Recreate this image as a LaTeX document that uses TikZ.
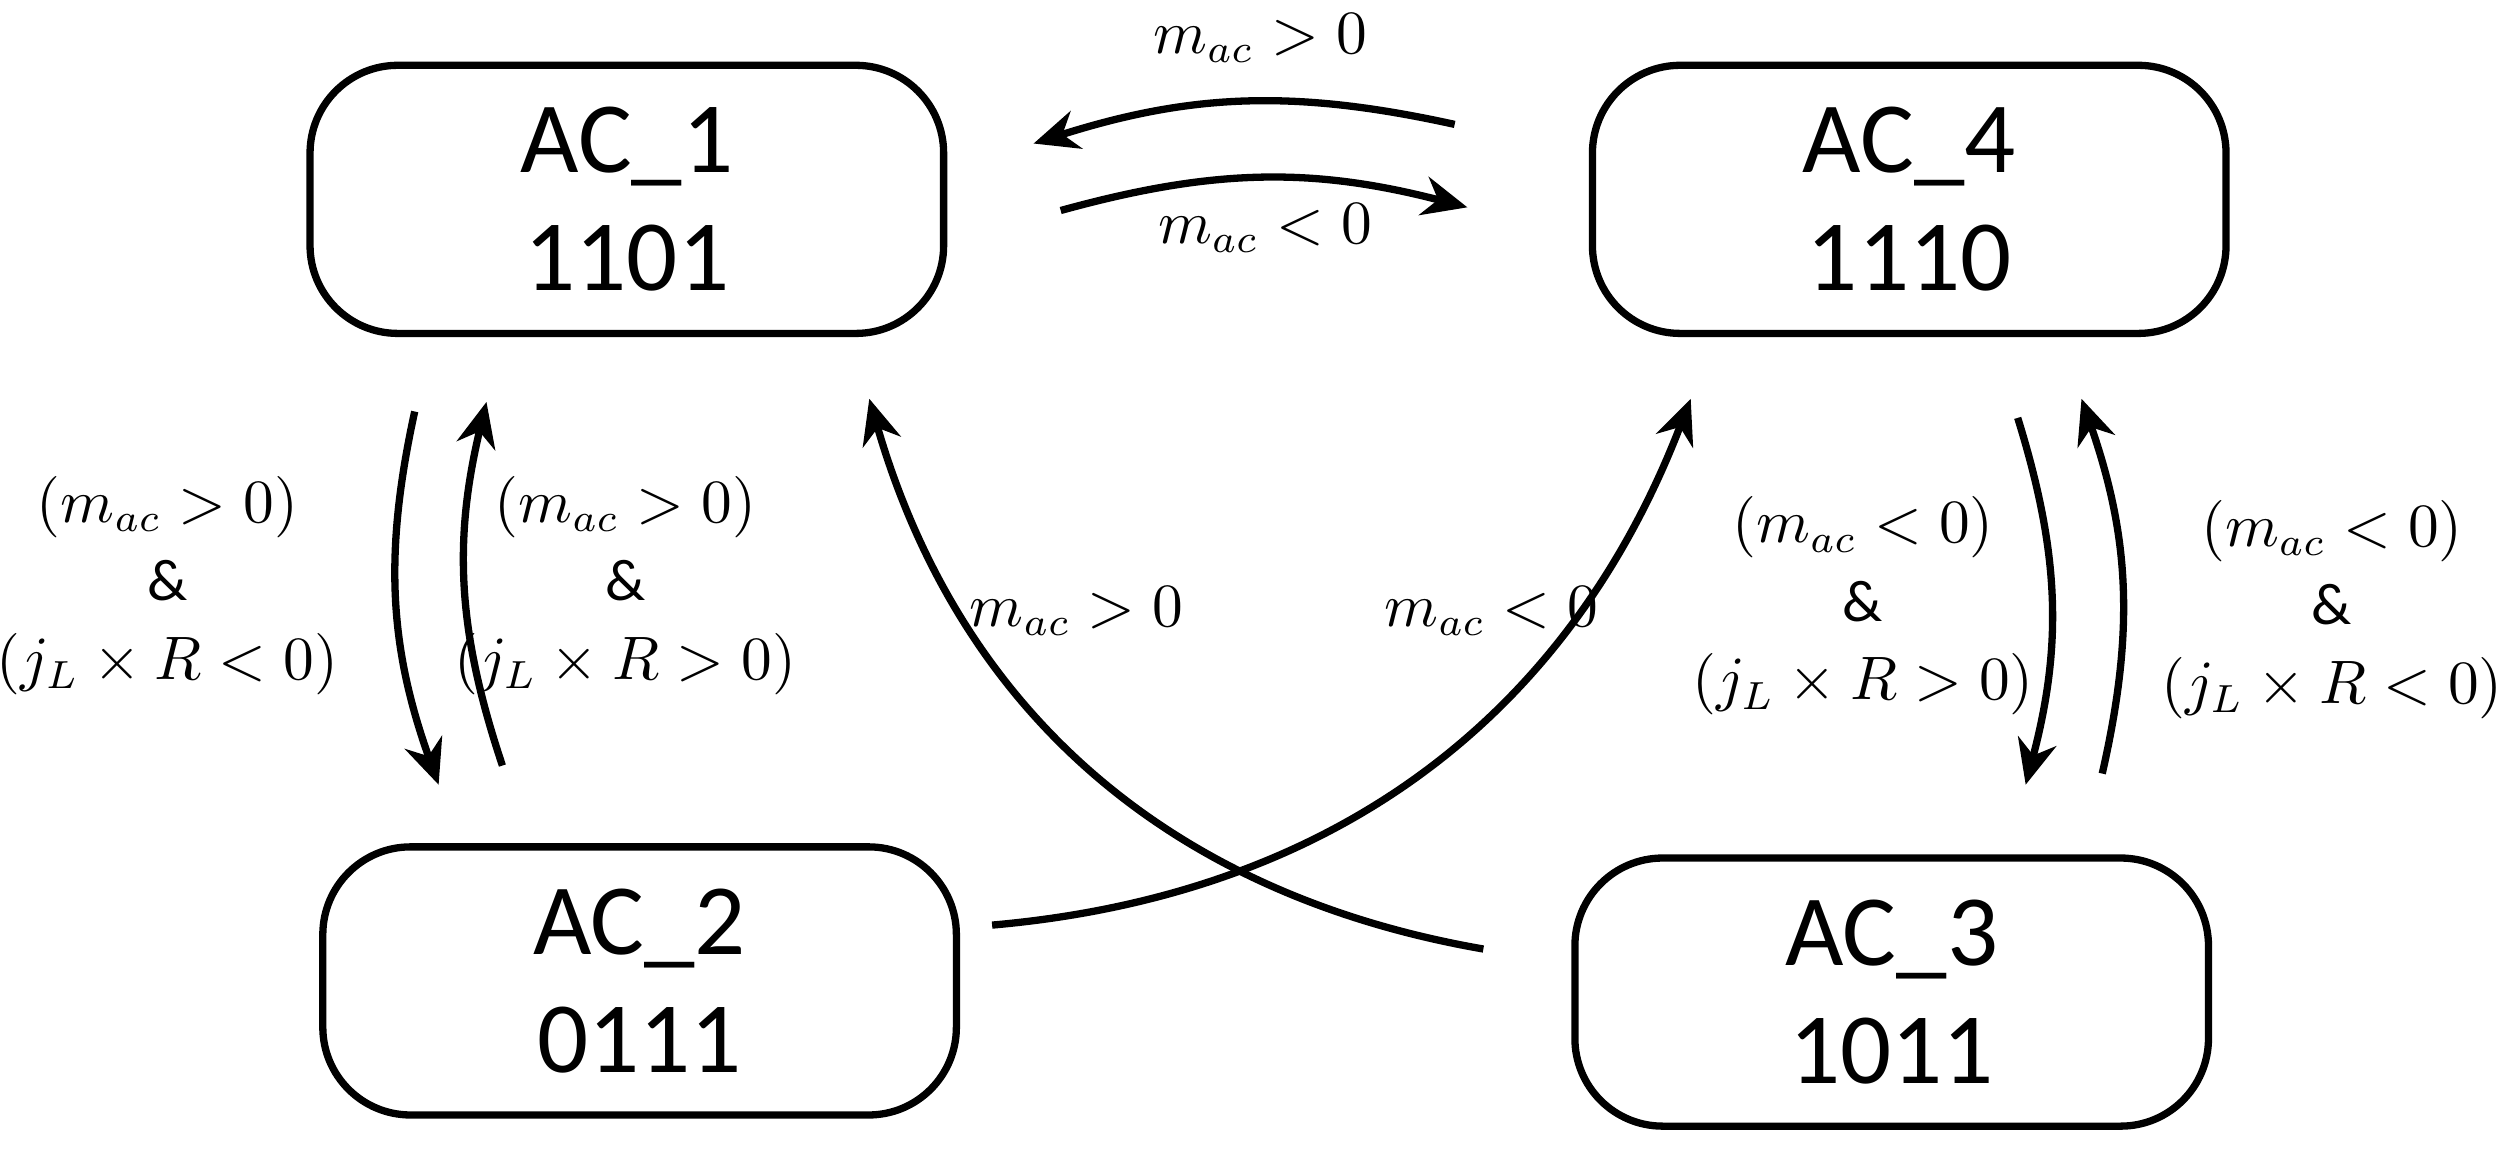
\documentclass[tikz,border=0pt]{standalone}
\usepackage{fontspec}
\setmainfont{Carlito}
\usetikzlibrary{arrows.meta}
\begin{document}
\begin{tikzpicture}[x=0.01cm,y=-0.01cm,
  st/.style={draw,line width=1.3pt,rounded corners=0.55cm,minimum width=3.97cm,minimum height=1.68cm,align=center,font=\fontsize{18}{21}\selectfont},
  ar/.style={line width=1.3pt,-{Stealth[length=8pt,width=7pt]}},
  lb/.style={align=center,font=\fontsize{10.5}{14}\selectfont}]
\useasboundingbox (0,0) rectangle (1568,722);
\node[st] (a1) at (393,125) {AC\_1\\1101};
\node[st] (a4) at (1197,125) {AC\_4\\1110};
\node[st] (a2) at (401,615) {AC\_2\\0111};
\node[st] (a3) at (1186,622) {AC\_3\\1011};
\coordinate (t1) at (912,78); \coordinate (t2) at (648,90);
\coordinate (t3) at (665,132); \coordinate (t4) at (920,130);
\coordinate (l1) at (260,258); \coordinate (l2) at (275,492);
\coordinate (l3) at (315,480); \coordinate (l4) at (305,252);
\coordinate (r1) at (1265,262); \coordinate (r2) at (1270,492);
\coordinate (r3) at (1318,485); \coordinate (r4) at (1305,250);
\coordinate (c1) at (930,595); \coordinate (c2) at (545,250);
\coordinate (c3) at (622,580); \coordinate (c4) at (1060,250);
\draw[ar] (t1) to[bend right=15] (t2);
\draw[ar] (t3) to[bend left=15] (t4);
\draw[ar] (l1) to[bend right=16] (l2);
\draw[ar] (l3) to[bend left=16] (l4);
\draw[ar] (r1) to[bend left=16] (r2);
\draw[ar] (r3) to[bend right=16] (r4);
\draw[ar] (c1) to[bend left=32] (c2);
\draw[ar] (c3) to[bend right=32] (c4);
\node[lb] (n1) at (790,24) {$m_{ac}>0$};
\node[lb] (n2) at (793,143) {$m_{ac}<0$};
\node[lb] (n3) at (105,367) {$(m_{ac}>0)$\\\&\\$(j_L\times R<0)$};
\node[lb] (n4) at (392,367) {$(m_{ac}>0)$\\\&\\$(j_L\times R>0)$};
\node[lb] (n5) at (1168,380) {$(m_{ac}<0)$\\\&\\$(j_L\times R>0)$};
\node[lb] (n6) at (1462,382) {$(m_{ac}<0)$\\\&\\$(j_L\times R<0)$};
\node[lb] (n7) at (675,383) {$m_{ac}>0$};
\node[lb] (n8) at (935,383) {$m_{ac}<0$};
\end{tikzpicture}
\end{document}
